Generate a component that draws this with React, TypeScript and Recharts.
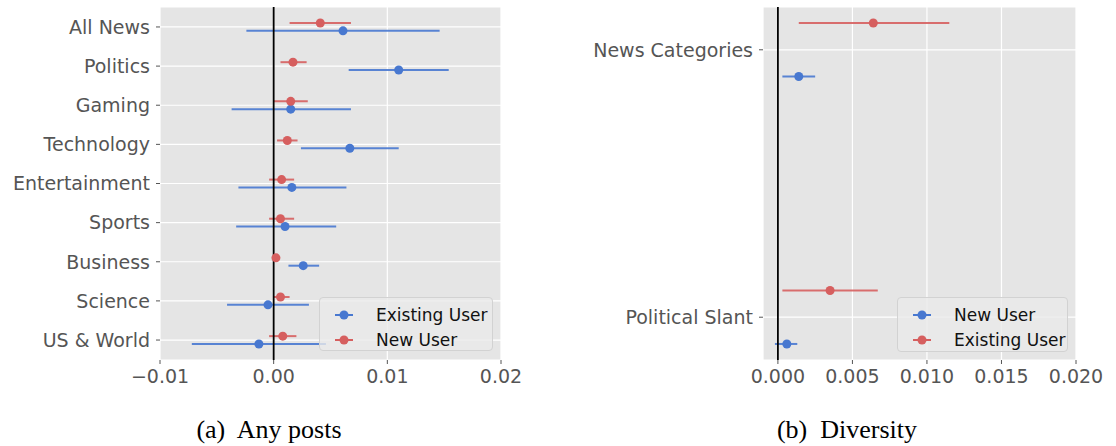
import { ScatterChart, Scatter, XAxis, YAxis, CartesianGrid, ErrorBar, ReferenceLine, Legend } from "recharts";

// ── Colors ────────────────────────────────────────────────────────────────────

const BLUE = "#4878d0";
const RED = "#d65f5f";
const TICK = "#555555";

// ── Data: (a) Any posts ──────────────────────────────────────────────────────

const postCategories = ["All News", "Politics", "Gaming", "Technology", "Entertainment", "Sports", "Business", "Science", "US & World"];

const postExisting = [0.0061, 0.011, 0.0015, 0.0067, 0.0016, 0.001, 0.0026, -0.0005, -0.0013];
const postExistingLo = [-0.0024, 0.0066, -0.0037, 0.0024, -0.0031, -0.0033, 0.0013, -0.0041, -0.0072];
const postExistingHi = [0.0146, 0.0154, 0.0068, 0.011, 0.0064, 0.0055, 0.004, 0.0031, 0.0046];

const postNew = [0.0041, 0.0017, 0.0015, 0.0012, 0.0007, 0.0006, 0.0002, 0.0006, 0.0008];
const postNewLo = [0.0014, 0.0006, 0.0, 0.0003, -0.0004, -0.0004, 0.0001, 0.0, -0.0004];
const postNewHi = [0.0068, 0.0029, 0.003, 0.0021, 0.0018, 0.0018, 0.0003, 0.0014, 0.002];

const postTicks = [-0.01, 0, 0.01, 0.02];

// ── Data: (b) Diversity ──────────────────────────────────────────────────────

const divCategories = ["News Categories", "Political Slant"];

const divNew = [0.0014, 0.0006];
const divNewLo = [0.0003, -0.0002];
const divNewHi = [0.0025, 0.0013];

const divExisting = [0.0064, 0.0035];
const divExistingLo = [0.0014, 0.0003];
const divExistingHi = [0.0115, 0.0067];

const divTicks = [0, 0.005, 0.01, 0.015, 0.02];

// ── Helpers ──────────────────────────────────────────────────────────────────

interface Series {
  name: string;
  color: string;
  offset: number; // vertical shift within a category row
  values: number[];
  lo: number[];
  hi: number[];
}

function rows(s: Series, n: number) {
  return s.values.map((v, i) => ({
    x: v,
    y: n - 1 - i + s.offset,
    err: [v - s.lo[i], s.hi[i] - v],
  }));
}

// Legend entries follow the series order (Recharts would sort them by name)
function LegendBox({ series }: { series: Series[] }) {
  return (
    <div
      style={{
        width: "100%",
        height: "100%",
        boxSizing: "border-box",
        background: "rgba(234,234,234,0.8)",
        border: "1px solid #d2d2d2",
        borderRadius: 4,
        paddingTop: 4,
      }}
    >
      {series.map((s) => (
        <div key={s.name} style={{ display: "flex", alignItems: "center", height: 25 }}>
          <svg width={52} height={20} style={{ flexShrink: 0 }}>
            <line x1={15} x2={33} y1={10} y2={10} stroke={s.color} strokeWidth={2} />
            <circle cx={24} cy={10} r={4.5} fill={s.color} />
          </svg>
          <span style={{ fontSize: 17, color: "#111", marginLeft: 4 }}>{s.name}</span>
        </div>
      ))}
    </div>
  );
}

interface PanelProps {
  left: number;
  width: number;
  yAxisWidth: number;
  rightMargin: number;
  categories: string[];
  series: Series[];
  xDomain: [number, number];
  xTicks: number[];
  xFormat: (v: number) => string;
  yDomain: [number, number];
  legend: { left: number; top: number; width: number; height: number };
}

function Panel(p: PanelProps) {
  const n = p.categories.length;
  const yTicks = p.categories.map((_, i) => i);
  return (
    <div style={{ position: "absolute", left: p.left, top: 0 }}>
      <ScatterChart width={p.width} height={400} margin={{ top: 7, right: p.rightMargin, bottom: 0, left: 0 }}>
        <CartesianGrid fill="#e5e5e5" stroke="#ffffff" strokeWidth={1.2} />
        <XAxis
          type="number"
          dataKey="x"
          domain={p.xDomain}
          allowDataOverflow
          ticks={p.xTicks}
          interval={0}
          tickFormatter={p.xFormat}
          axisLine={false}
          tickLine={{ stroke: TICK }}
          tickSize={4}
          tickMargin={6}
          height={40}
          tick={{ fontSize: 19, fill: TICK }}
        />
        <YAxis
          type="number"
          dataKey="y"
          domain={p.yDomain}
          allowDataOverflow
          ticks={yTicks}
          interval={0}
          tickFormatter={(v: number) => p.categories[n - 1 - v] ?? ""}
          axisLine={false}
          tickLine={{ stroke: TICK }}
          tickSize={4}
          tickMargin={6}
          width={p.yAxisWidth}
          tick={{ fontSize: 19, fill: TICK }}
        />
        {p.series.map((s) => (
          <Scatter
            key={s.name}
            name={s.name}
            data={rows(s, n)}
            fill={s.color}
            isAnimationActive={false}
            shape={(props: any) => <circle cx={props.cx} cy={props.cy} r={4.5} fill={s.color} />}
          >
            <ErrorBar dataKey="err" direction="x" width={0} stroke={s.color} strokeWidth={2} strokeOpacity={0.9} />
          </Scatter>
        ))}
        <ReferenceLine x={0} stroke="#000000" strokeWidth={1.8} />
        <Legend
          layout="vertical"
          align="center"
          verticalAlign="middle"
          content={() => <LegendBox series={p.series} />}
          wrapperStyle={{ ...p.legend, position: "absolute" }}
        />
      </ScatterChart>
    </div>
  );
}

const caption: React.CSSProperties = {
  position: "absolute",
  top: 415,
  transform: "translateX(-50%)",
  fontFamily: "'Liberation Serif', serif",
  fontSize: 26,
  color: "#000",
  whiteSpace: "pre",
};

export default function App() {
  return (
    <div
      style={{
        position: "absolute",
        left: 0,
        top: 0,
        width: 1116,
        height: 446,
        background: "#fff",
        fontFamily: "'DejaVu Sans', sans-serif",
        overflow: "hidden",
      }}
    >
      <Panel
        left={0}
        width={540}
        yAxisWidth={160}
        rightMargin={39}
        categories={postCategories}
        series={[
          { name: "Existing User", color: BLUE, offset: -0.1, values: postExisting, lo: postExistingLo, hi: postExistingHi },
          { name: "New User", color: RED, offset: 0.1, values: postNew, lo: postNewLo, hi: postNewHi },
        ]}
        xDomain={[-0.01, 0.02]}
        xTicks={postTicks}
        xFormat={(v) => (v < 0 ? "\u2212" + Math.abs(v).toFixed(2) : v.toFixed(2))}
        yDomain={[-0.51, 8.51]}
        legend={{ left: 319, top: 297, width: 174, height: 54 }}
      />
      <Panel
        left={580}
        width={536}
        yAxisWidth={183}
        rightMargin={40}
        categories={divCategories}
        series={[
          { name: "New User", color: BLUE, offset: -0.1, values: divNew, lo: divNewLo, hi: divNewHi },
          { name: "Existing User", color: RED, offset: 0.1, values: divExisting, lo: divExistingLo, hi: divExistingHi },
        ]}
        xDomain={[-0.001, 0.02]}
        xTicks={divTicks}
        xFormat={(v) => v.toFixed(3)}
        yDomain={[-0.16, 1.16]}
        legend={{ left: 317, top: 297, width: 171, height: 55 }}
      />
      <div style={{ ...caption, left: 269 }}>(a)  Any posts</div>
      <div style={{ ...caption, left: 847 }}>(b)  Diversity</div>
    </div>
  );
}
